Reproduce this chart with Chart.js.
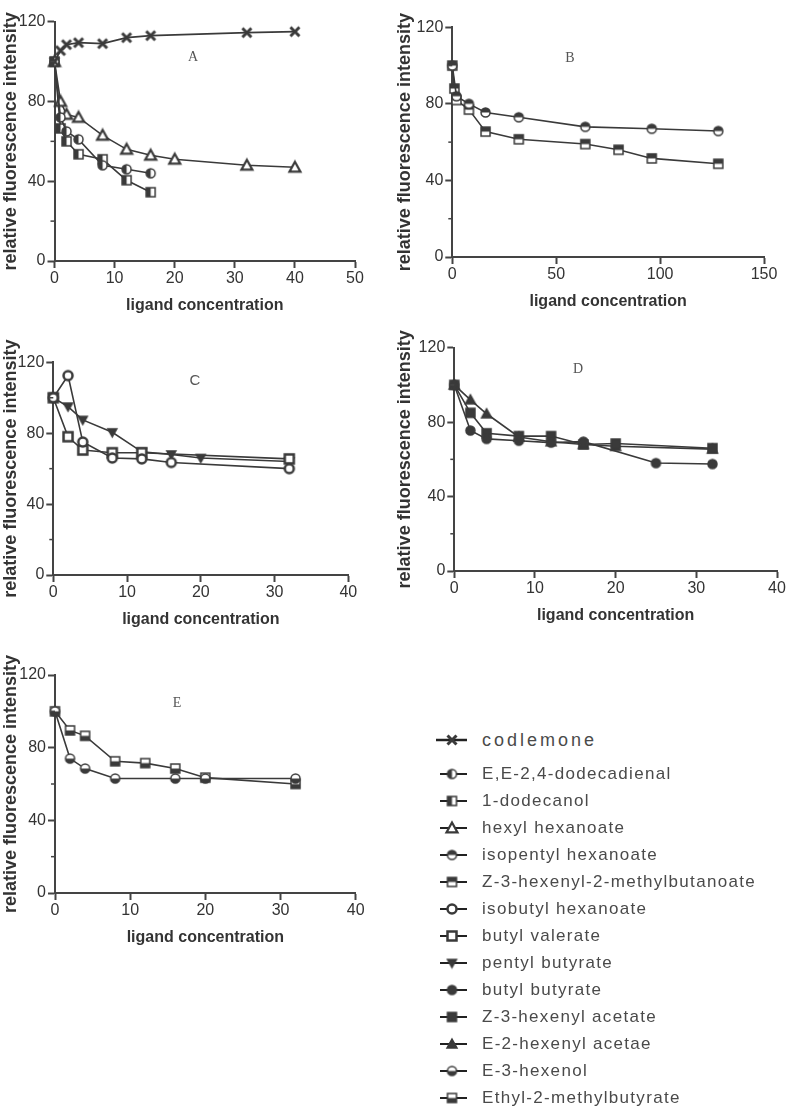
<!DOCTYPE html>
<html>
<head>
<meta charset="utf-8">
<script src="https://cdn.jsdelivr.net/npm/chart.js@4.4.0/dist/chart.umd.min.js"></script>
<style>
  body { margin: 0; background: #fff; }
  #page { position: relative; width: 787px; height: 1111px; overflow: hidden; font-family: "Liberation Sans", Arial, sans-serif; }
  #page canvas.panel { position: absolute; }
  .letter { position: absolute; transform: translate(-50%, -50%); font-family: "Liberation Serif", "DejaVu Serif", serif; font-size: 14px; color: #555; line-height: 1; }
  .letter.sans { font-family: "Liberation Sans", Arial, sans-serif; font-size: 15px; }
  .legend-row { position: absolute; left: 436px; height: 20px; display: flex; align-items: center; }
  .legend-row span { margin-left: 14px; font-size: 17px; letter-spacing: 1.3px; color: #4a4a4a; white-space: nowrap; }
  .legend-row.big span { font-size: 18px; letter-spacing: 3px; }
</style>
</head>
<body>
<div id="page">
  <canvas class="panel" id="chart-a" width="390" height="315" style="left:0px;top:0px"></canvas>
  <canvas class="panel" id="chart-b" width="393" height="311" style="left:394px;top:0px"></canvas>
  <canvas class="panel" id="chart-c" width="390" height="299" style="left:0px;top:330px"></canvas>
  <canvas class="panel" id="chart-d" width="393" height="305" style="left:394px;top:320px"></canvas>
  <canvas class="panel" id="chart-e" width="390" height="302" style="left:0px;top:645px"></canvas>
  <div class="letter" style="left:193px;top:57px">A</div>
  <div class="letter" style="left:570px;top:58px">B</div>
  <div class="letter sans" style="left:195px;top:379px">C</div>
  <div class="letter" style="left:578px;top:369px">D</div>
  <div class="letter" style="left:177px;top:703px">E</div>
  <div id="legend"></div>
</div>
<script>
// panel A
var xCodlemone = [0, 1, 2, 4, 8, 12, 16, 32, 40];
var yCodlemone = [100, 105.5, 108.5, 109.5, 109, 112, 113, 114.5, 115];
var xDodecadienal = [0, 1, 2, 4, 8, 12, 16];
var yDodecadienal = [100, 72, 65, 61, 48, 46, 44];
var xDodecanol = [0, 1, 2, 4, 8, 12, 16];
var yDodecanol = [100, 66.5, 60, 53.5, 51, 40.5, 34.5];
var xHexylHexanoate = [0, 1, 2, 4, 8, 12, 16, 20, 32, 40];
var yHexylHexanoate = [100, 80, 73.5, 72, 63, 56, 53, 51, 48, 47];
// panel B
var xIsopentylHexanoate = [0, 2, 8, 16, 32, 64, 96, 128];
var yIsopentylHexanoate = [100, 84, 80, 75.5, 73, 68, 67, 65.8];
var xHexenylMethylbutanoate = [0, 1, 2, 8, 16, 32, 64, 80, 96, 128];
var yHexenylMethylbutanoate = [100, 88, 82, 77, 65.5, 61.5, 59, 56, 51.5, 48.7];
// panel C
var xIsobutylHexanoate = [0, 2, 4, 8, 12, 16, 32];
var yIsobutylHexanoate = [100, 112.5, 75, 66, 65.5, 63.5, 60];
var xButylValerate = [0, 2, 4, 8, 12, 32];
var yButylValerate = [100, 78, 70.5, 69, 69, 65.5];
var xPentylButyrate = [0, 2, 4, 8, 12, 16, 20, 32];
var yPentylButyrate = [100, 95, 87.5, 80.5, 69.5, 68, 66, 64];
// panel D
var xButylButyrate = [0, 2, 4, 8, 12, 16, 25, 32];
var yButylButyrate = [100, 75.5, 71, 70, 69, 69.5, 58, 57.5];
var xHexenylAcetate = [0, 2, 4, 8, 12, 16, 20, 32];
var yHexenylAcetate = [100, 85, 74, 72.5, 72.5, 68, 68.5, 66];
var xE2HexenylAcetate = [0, 2, 4, 8, 12, 16, 20, 32];
var yE2HexenylAcetate = [100, 92, 84.5, 72, 69.5, 68, 67, 65.5];
// panel E
var xHexenol = [0, 2, 4, 8, 16, 20, 32];
var yHexenol = [100, 74, 68.5, 63, 63, 63, 63];
var xEthylMethylbutyrate = [0, 2, 4, 8, 12, 16, 20, 32];
var yEthylMethylbutyrate = [100, 89.5, 86.5, 72.5, 71.5, 68.5, 63.5, 60];

// legend labels (same order as the legend)
var compoundNames = [
  "codlemone",
  "E,E-2,4-dodecadienal",
  "1-dodecanol",
  "hexyl hexanoate",
  "isopentyl hexanoate",
  "Z-3-hexenyl-2-methylbutanoate",
  "isobutyl hexanoate",
  "butyl valerate",
  "pentyl butyrate",
  "butyl butyrate",
  "Z-3-hexenyl acetate",
  "E-2-hexenyl acetae",
  "E-3-hexenol",
  "Ethyl-2-methylbutyrate",
];
var yMajorStep = 40;
var yMinorTicks = [20, 60, 100];
var xTitle = "ligand concentration";
var yTitle = "relative fluorescence intensity";

var INK = "#3a3a3a";
var AXIS = "#444";
var TEXT = "#333";

// marker images (used as pointStyle)
function makeMarker(shape, fill, size, lw) {
  var c = document.createElement("canvas");
  var s = Math.ceil(size + lw + 2);
  c.width = s;
  c.height = s;
  var g = c.getContext("2d");
  var m = s / 2, r = size / 2;
  g.lineWidth = lw;
  g.strokeStyle = INK;
  g.lineJoin = "miter";
  if (shape == "cross") {
    g.lineCap = "butt";
    g.beginPath();
    g.moveTo(m - r, m - r); g.lineTo(m + r, m + r);
    g.moveTo(m + r, m - r); g.lineTo(m - r, m + r);
    g.stroke();
    return c;
  }
  function path() {
    g.beginPath();
    if (shape == "circle") g.arc(m, m, r, 0, Math.PI * 2);
    else if (shape == "square") g.rect(m - r, m - r, size, size);
    else if (shape == "triangle") {
      g.moveTo(m, m - r); g.lineTo(m + r, m + r * 0.8); g.lineTo(m - r, m + r * 0.8); g.closePath();
    } else if (shape == "triangleDown") {
      g.moveTo(m, m + r); g.lineTo(m + r, m - r * 0.8); g.lineTo(m - r, m - r * 0.8); g.closePath();
    }
  }
  path();
  g.fillStyle = "#fff";
  g.fill();
  if (fill != "open") {
    g.save();
    path();
    g.clip();
    g.fillStyle = INK;
    if (fill == "full") g.fillRect(0, 0, s, s);
    if (fill == "left") g.fillRect(0, 0, m, s);
    if (fill == "top") g.fillRect(0, 0, s, m);
    if (fill == "bottom") g.fillRect(0, m, s, s - m);
    g.restore();
  }
  path();
  g.stroke();
  return c;
}

var markers = [
  makeMarker("cross", "full", 9, 3),
  makeMarker("circle", "left", 9, 1.5),
  makeMarker("square", "left", 9, 1.5),
  makeMarker("triangle", "open", 11, 2.2),
  makeMarker("circle", "top", 9, 1.5),
  makeMarker("square", "top", 9, 1.5),
  makeMarker("circle", "open", 9, 2.5),
  makeMarker("square", "open", 9, 2.5),
  makeMarker("triangleDown", "full", 9, 1.5),
  makeMarker("circle", "full", 9, 1.5),
  makeMarker("square", "full", 9, 1.5),
  makeMarker("triangle", "full", 10, 1.5),
  makeMarker("circle", "bottom", 9, 1.5),
  makeMarker("square", "bottom", 9, 1.5),
];

function points(xs, ys) {
  var out = [];
  for (var i = 0; i < xs.length; i++) out.push({ x: xs[i], y: ys[i] });
  return out;
}

function series(index, xs, ys) {
  return {
    label: compoundNames[index],
    data: points(xs, ys),
    showLine: true,
    borderColor: INK,
    borderWidth: 1.6,
    pointStyle: markers[index],
    pointRadius: 5,
    clip: false,
  };
}

// short ticks at 20, 60, 100
var minorTicks = {
  id: "minorTicks",
  afterDraw: function (chart) {
    var y = chart.scales.y;
    var ctx = chart.ctx;
    ctx.save();
    ctx.strokeStyle = AXIS;
    ctx.lineWidth = 1.5;
    yMinorTicks.forEach(function (v) {
      var py = y.getPixelForValue(v);
      ctx.beginPath();
      ctx.moveTo(y.right - 4, py);
      ctx.lineTo(y.right, py);
      ctx.stroke();
    });
    ctx.restore();
  },
};

var tickFont = { family: "'Liberation Sans Narrow', 'Liberation Sans', Arial", size: 16 };
var titleFont = { family: "'Liberation Sans', Arial", size: 16, weight: "bold" };
var yTitleFont = { family: "'Liberation Sans', Arial", size: 18, weight: "bold" };

function buildPanel(canvasId, box, xMax, xStep, datasets) {
  var ctx = document.getElementById(canvasId).getContext("2d");
  return new Chart(ctx, {
    type: "scatter",
    data: { datasets: datasets },
    options: {
      responsive: false,
      animation: false,
      layout: { padding: { left: 0, top: box.padTop, right: box.padRight, bottom: 0 } },
      plugins: { legend: { display: false }, tooltip: { enabled: false } },
      scales: {
        x: {
          type: "linear",
          min: 0,
          max: xMax,
          ticks: { stepSize: xStep, padding: 1, color: TEXT, font: tickFont, maxRotation: 0 },
          grid: { drawOnChartArea: false, tickLength: 7, tickWidth: 2, tickColor: AXIS },
          border: { color: AXIS, width: 2 },
          title: { display: true, text: xTitle, color: TEXT, font: titleFont, padding: 0 },
          afterFit: function (scale) {
            scale.height = 54;
          },
        },
        y: {
          min: 0,
          max: 120,
          ticks: { stepSize: yMajorStep, padding: 2, color: TEXT, font: tickFont },
          grid: { drawOnChartArea: false, tickLength: 7, tickWidth: 2, tickColor: AXIS },
          border: { color: AXIS, width: 2 },
          title: { display: true, text: yTitle, color: TEXT, font: yTitleFont, padding: 0 },
          afterFit: function (scale) {
            scale.width = box.yWidth;
          },
        },
      },
    },
    plugins: [minorTicks],
  });
}

buildPanel("chart-a", { padTop: 21.7, padRight: 35, yWidth: 54.5 }, 50, 10, [
  series(0, xCodlemone, yCodlemone),
  series(1, xDodecadienal, yDodecadienal),
  series(2, xDodecanol, yDodecanol),
  series(3, xHexylHexanoate, yHexylHexanoate),
]);
buildPanel("chart-b", { padTop: 27.3, padRight: 23, yWidth: 58.3 }, 150, 50, [
  series(4, xIsopentylHexanoate, yIsopentylHexanoate),
  series(5, xHexenylMethylbutanoate, yHexenylMethylbutanoate),
]);
buildPanel("chart-c", { padTop: 32.3, padRight: 41.7, yWidth: 53.3 }, 40, 10, [
  series(6, xIsobutylHexanoate, yIsobutylHexanoate),
  series(7, xButylValerate, yButylValerate),
  series(8, xPentylButyrate, yPentylButyrate),
]);
buildPanel("chart-d", { padTop: 27.7, padRight: 10, yWidth: 60.3 }, 40, 10, [
  series(9, xButylButyrate, yButylButyrate),
  series(10, xHexenylAcetate, yHexenylAcetate),
  series(11, xE2HexenylAcetate, yE2HexenylAcetate),
]);
buildPanel("chart-e", { padTop: 30, padRight: 34.3, yWidth: 55 }, 40, 10, [
  series(12, xHexenol, yHexenol),
  series(13, xEthylMethylbutyrate, yEthylMethylbutyrate),
]);

// legend: line + marker + name
var legend = document.getElementById("legend");
for (var i = 0; i < compoundNames.length; i++) {
  var row = document.createElement("div");
  row.className = "legend-row" + (i == 0 ? " big" : "");
  var cy = i == 0 ? 740 : 774 + 27 * (i - 1);
  row.style.top = cy - 10 + "px";
  var icon = document.createElement("canvas");
  icon.width = 32;
  icon.height = 20;
  var g = icon.getContext("2d");
  g.strokeStyle = "#222";
  g.lineWidth = i == 0 ? 2.5 : 2;
  g.beginPath();
  g.moveTo(i == 0 ? 0 : 4, 10);
  g.lineTo(31, 10);
  g.stroke();
  var mk = markers[i];
  g.drawImage(mk, 16 - mk.width / 2, 10 - mk.height / 2);
  var label = document.createElement("span");
  label.textContent = compoundNames[i];
  row.appendChild(icon);
  row.appendChild(label);
  legend.appendChild(row);
}
</script>
</body>
</html>
